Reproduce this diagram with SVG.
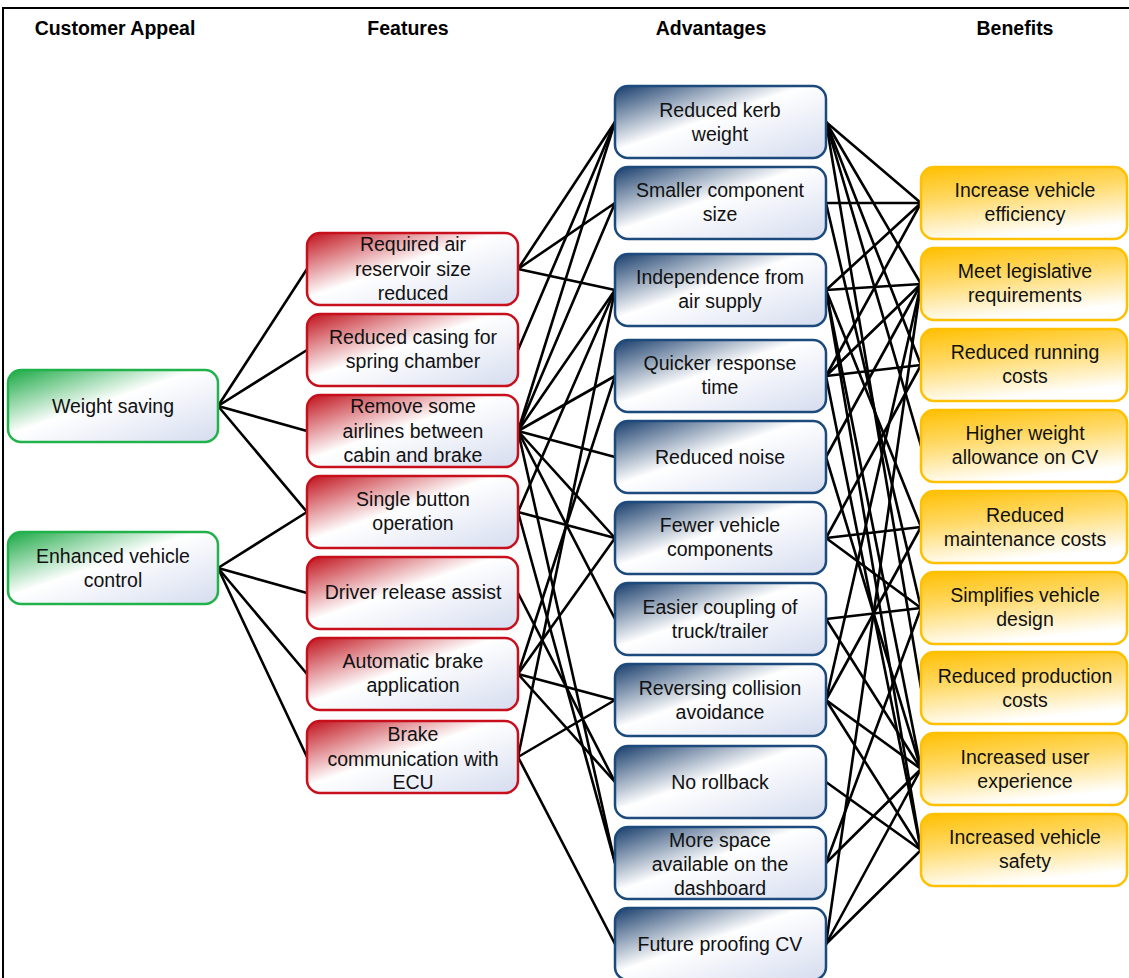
<svg xmlns="http://www.w3.org/2000/svg" width="1129" height="978" viewBox="0 0 1129 978">
  <defs>
    <linearGradient id="gGreen" x1="0" y1="0" x2="1" y2="1">
      <stop offset="0" stop-color="#19a843"/>
      <stop offset="0.45" stop-color="#ffffff"/>
      <stop offset="1" stop-color="#d5dcef"/>
    </linearGradient>
    <linearGradient id="gRed" x1="0" y1="0" x2="1" y2="1">
      <stop offset="0" stop-color="#c0101a"/>
      <stop offset="0.45" stop-color="#ffffff"/>
      <stop offset="1" stop-color="#d5dcef"/>
    </linearGradient>
    <linearGradient id="gBlue" x1="0" y1="0" x2="1" y2="1">
      <stop offset="0" stop-color="#173c6b"/>
      <stop offset="0.45" stop-color="#ffffff"/>
      <stop offset="1" stop-color="#d5dcef"/>
    </linearGradient>
    <linearGradient id="gGold" x1="0" y1="0" x2="0.3" y2="1">
      <stop offset="0" stop-color="#ffbf00"/>
      <stop offset="0.45" stop-color="#ffd966"/>
      <stop offset="1" stop-color="#ffffff"/>
    </linearGradient>
  </defs>
  <style>
    .hdr { font-family: "Liberation Sans", Arial, sans-serif; font-size: 19.5px; font-weight: bold; fill: #000; text-anchor: middle; }
    .lbl { font-family: "Liberation Sans", Arial, sans-serif; font-size: 19.5px; fill: #111; text-anchor: middle; }
    .box { stroke-width: 2.5; }
    .appeal { fill: url(#gGreen); stroke: #22b24c; }
    .feature { fill: url(#gRed); stroke: #c8101c; }
    .advantage { fill: url(#gBlue); stroke: #1c4a7c; }
    .benefit { fill: url(#gGold); stroke: #ffc000; }
    #connectors line { stroke: #000; stroke-width: 2.6; stroke-linecap: round; }
  </style>

  <rect x="0" y="0" width="1129" height="978" fill="#ffffff"/>
  <!-- outer frame -->
  <path d="M3,978 V8 H1129" fill="none" stroke="#000" stroke-width="2"/>

  <!-- column headings -->
  <g id="headings">
    <text class="hdr" x="115" y="35">Customer Appeal</text>
    <text class="hdr" x="408" y="35">Features</text>
    <text class="hdr" x="711" y="35">Advantages</text>
    <text class="hdr" x="1015" y="35">Benefits</text>
  </g>

  <!-- connectors -->
  <g id="connectors">
    <!-- appeal to features -->
    <line x1="218" y1="406" x2="307" y2="269"/>
    <line x1="218" y1="406" x2="307" y2="350"/>
    <line x1="218" y1="406" x2="307" y2="431"/>
    <line x1="218" y1="406" x2="307" y2="512"/>
    <line x1="218" y1="568" x2="307" y2="512"/>
    <line x1="218" y1="568" x2="307" y2="593"/>
    <line x1="218" y1="568" x2="307" y2="674"/>
    <line x1="218" y1="568" x2="307" y2="757"/>
    <!-- features to advantages -->
    <line x1="518" y1="269" x2="615" y2="122"/>
    <line x1="518" y1="269" x2="615" y2="203"/>
    <line x1="518" y1="269" x2="615" y2="290"/>
    <line x1="518" y1="350" x2="615" y2="122"/>
    <line x1="518" y1="431" x2="615" y2="122"/>
    <line x1="518" y1="431" x2="615" y2="203"/>
    <line x1="518" y1="431" x2="615" y2="290"/>
    <line x1="518" y1="431" x2="615" y2="376"/>
    <line x1="518" y1="431" x2="615" y2="457"/>
    <line x1="518" y1="431" x2="615" y2="538"/>
    <line x1="518" y1="431" x2="615" y2="619"/>
    <line x1="518" y1="431" x2="615" y2="863"/>
    <line x1="518" y1="512" x2="615" y2="290"/>
    <line x1="518" y1="512" x2="615" y2="538"/>
    <line x1="518" y1="512" x2="615" y2="863"/>
    <line x1="518" y1="593" x2="615" y2="782"/>
    <line x1="518" y1="674" x2="615" y2="376"/>
    <line x1="518" y1="674" x2="615" y2="538"/>
    <line x1="518" y1="674" x2="615" y2="700"/>
    <line x1="518" y1="674" x2="615" y2="782"/>
    <line x1="518" y1="757" x2="615" y2="290"/>
    <line x1="518" y1="757" x2="615" y2="700"/>
    <line x1="518" y1="757" x2="615" y2="944"/>
    <!-- advantages to benefits -->
    <line x1="826" y1="122" x2="921" y2="203"/>
    <line x1="826" y1="122" x2="921" y2="284"/>
    <line x1="826" y1="122" x2="921" y2="365"/>
    <line x1="826" y1="122" x2="921" y2="446"/>
    <line x1="826" y1="122" x2="921" y2="688"/>
    <line x1="826" y1="203" x2="921" y2="203"/>
    <line x1="826" y1="203" x2="921" y2="608"/>
    <line x1="826" y1="290" x2="921" y2="203"/>
    <line x1="826" y1="290" x2="921" y2="284"/>
    <line x1="826" y1="290" x2="921" y2="527"/>
    <line x1="826" y1="290" x2="921" y2="769"/>
    <line x1="826" y1="290" x2="921" y2="850"/>
    <line x1="826" y1="376" x2="921" y2="203"/>
    <line x1="826" y1="376" x2="921" y2="365"/>
    <line x1="826" y1="376" x2="921" y2="284"/>
    <line x1="826" y1="376" x2="921" y2="850"/>
    <line x1="826" y1="457" x2="921" y2="284"/>
    <line x1="826" y1="457" x2="921" y2="769"/>
    <line x1="826" y1="538" x2="921" y2="365"/>
    <line x1="826" y1="538" x2="921" y2="527"/>
    <line x1="826" y1="538" x2="921" y2="608"/>
    <line x1="826" y1="619" x2="921" y2="608"/>
    <line x1="826" y1="619" x2="921" y2="769"/>
    <line x1="826" y1="700" x2="921" y2="284"/>
    <line x1="826" y1="700" x2="921" y2="527"/>
    <line x1="826" y1="700" x2="921" y2="769"/>
    <line x1="826" y1="700" x2="921" y2="850"/>
    <line x1="826" y1="782" x2="921" y2="850"/>
    <line x1="826" y1="863" x2="921" y2="608"/>
    <line x1="826" y1="863" x2="921" y2="769"/>
    <line x1="826" y1="944" x2="921" y2="284"/>
    <line x1="826" y1="944" x2="921" y2="769"/>
    <line x1="826" y1="944" x2="921" y2="850"/>
  </g>

  <!-- customer appeal -->
  <g id="appeal-weight-saving">
    <rect class="box appeal" x="8" y="370" width="210" height="72" rx="13"/>
    <text class="lbl" x="113" y="413">Weight saving</text>
  </g>
  <g id="appeal-enhanced-control">
    <rect class="box appeal" x="8" y="532" width="210" height="72" rx="13"/>
    <text class="lbl" x="113" y="563">Enhanced vehicle</text>
    <text class="lbl" x="113" y="587">control</text>
  </g>

  <!-- features -->
  <g id="feature-air-reservoir">
    <rect class="box feature" x="307" y="233" width="211" height="72" rx="13"/>
    <text class="lbl" x="413" y="251">Required air</text>
    <text class="lbl" x="413" y="276">reservoir size</text>
    <text class="lbl" x="413" y="300">reduced</text>
  </g>
  <g id="feature-spring-casing">
    <rect class="box feature" x="307" y="314" width="211" height="72" rx="13"/>
    <text class="lbl" x="413" y="344">Reduced casing for</text>
    <text class="lbl" x="413" y="368">spring chamber</text>
  </g>
  <g id="feature-airlines">
    <rect class="box feature" x="307" y="395" width="211" height="72" rx="13"/>
    <text class="lbl" x="413" y="413">Remove some</text>
    <text class="lbl" x="413" y="438">airlines between</text>
    <text class="lbl" x="413" y="462">cabin and brake</text>
  </g>
  <g id="feature-single-button">
    <rect class="box feature" x="307" y="476" width="211" height="72" rx="13"/>
    <text class="lbl" x="413" y="506">Single button</text>
    <text class="lbl" x="413" y="530">operation</text>
  </g>
  <g id="feature-driver-release">
    <rect class="box feature" x="307" y="557" width="211" height="72" rx="13"/>
    <text class="lbl" x="413" y="599">Driver release assist</text>
  </g>
  <g id="feature-auto-brake">
    <rect class="box feature" x="307" y="638" width="211" height="72" rx="13"/>
    <text class="lbl" x="413" y="668">Automatic brake</text>
    <text class="lbl" x="413" y="692">application</text>
  </g>
  <g id="feature-ecu">
    <rect class="box feature" x="307" y="721" width="211" height="72" rx="13"/>
    <text class="lbl" x="413" y="741">Brake</text>
    <text class="lbl" x="413" y="766">communication with</text>
    <text class="lbl" x="413" y="789">ECU</text>
  </g>

  <!-- advantages -->
  <g id="adv-kerb-weight">
    <rect class="box advantage" x="615" y="86" width="211" height="72" rx="13"/>
    <text class="lbl" x="720" y="117">Reduced kerb</text>
    <text class="lbl" x="720" y="141">weight</text>
  </g>
  <g id="adv-component-size">
    <rect class="box advantage" x="615" y="167" width="211" height="72" rx="13"/>
    <text class="lbl" x="720" y="197">Smaller component</text>
    <text class="lbl" x="720" y="221">size</text>
  </g>
  <g id="adv-air-independence">
    <rect class="box advantage" x="615" y="254" width="211" height="72" rx="13"/>
    <text class="lbl" x="720" y="284">Independence from</text>
    <text class="lbl" x="720" y="308">air supply</text>
  </g>
  <g id="adv-response-time">
    <rect class="box advantage" x="615" y="340" width="211" height="72" rx="13"/>
    <text class="lbl" x="720" y="370">Quicker response</text>
    <text class="lbl" x="720" y="394">time</text>
  </g>
  <g id="adv-noise">
    <rect class="box advantage" x="615" y="421" width="211" height="72" rx="13"/>
    <text class="lbl" x="720" y="464">Reduced noise</text>
  </g>
  <g id="adv-fewer-components">
    <rect class="box advantage" x="615" y="502" width="211" height="72" rx="13"/>
    <text class="lbl" x="720" y="532">Fewer vehicle</text>
    <text class="lbl" x="720" y="556">components</text>
  </g>
  <g id="adv-coupling">
    <rect class="box advantage" x="615" y="583" width="211" height="72" rx="13"/>
    <text class="lbl" x="720" y="614">Easier coupling of</text>
    <text class="lbl" x="720" y="638">truck/trailer</text>
  </g>
  <g id="adv-collision">
    <rect class="box advantage" x="615" y="664" width="211" height="72" rx="13"/>
    <text class="lbl" x="720" y="695">Reversing collision</text>
    <text class="lbl" x="720" y="719">avoidance</text>
  </g>
  <g id="adv-rollback">
    <rect class="box advantage" x="615" y="746" width="211" height="72" rx="13"/>
    <text class="lbl" x="720" y="789">No rollback</text>
  </g>
  <g id="adv-dashboard">
    <rect class="box advantage" x="615" y="827" width="211" height="72" rx="13"/>
    <text class="lbl" x="720" y="847">More space</text>
    <text class="lbl" x="720" y="871">available on the</text>
    <text class="lbl" x="720" y="895">dashboard</text>
  </g>
  <g id="adv-future-proof">
    <rect class="box advantage" x="615" y="908" width="211" height="72" rx="13"/>
    <text class="lbl" x="720" y="951">Future proofing CV</text>
  </g>

  <!-- benefits -->
  <g id="ben-efficiency">
    <rect class="box benefit" x="921" y="167" width="206" height="72" rx="13"/>
    <text class="lbl" x="1025" y="197">Increase vehicle</text>
    <text class="lbl" x="1025" y="221">efficiency</text>
  </g>
  <g id="ben-legislation">
    <rect class="box benefit" x="921" y="248" width="206" height="72" rx="13"/>
    <text class="lbl" x="1025" y="278">Meet legislative</text>
    <text class="lbl" x="1025" y="302">requirements</text>
  </g>
  <g id="ben-running-costs">
    <rect class="box benefit" x="921" y="329" width="206" height="72" rx="13"/>
    <text class="lbl" x="1025" y="359">Reduced running</text>
    <text class="lbl" x="1025" y="383">costs</text>
  </g>
  <g id="ben-weight-allowance">
    <rect class="box benefit" x="921" y="410" width="206" height="72" rx="13"/>
    <text class="lbl" x="1025" y="440">Higher weight</text>
    <text class="lbl" x="1025" y="464">allowance on CV</text>
  </g>
  <g id="ben-maintenance">
    <rect class="box benefit" x="921" y="491" width="206" height="72" rx="13"/>
    <text class="lbl" x="1025" y="522">Reduced</text>
    <text class="lbl" x="1025" y="546">maintenance costs</text>
  </g>
  <g id="ben-design">
    <rect class="box benefit" x="921" y="572" width="206" height="72" rx="13"/>
    <text class="lbl" x="1025" y="602">Simplifies vehicle</text>
    <text class="lbl" x="1025" y="626">design</text>
  </g>
  <g id="ben-production">
    <rect class="box benefit" x="921" y="652" width="206" height="72" rx="13"/>
    <text class="lbl" x="1025" y="683">Reduced production</text>
    <text class="lbl" x="1025" y="707">costs</text>
  </g>
  <g id="ben-user-experience">
    <rect class="box benefit" x="921" y="733" width="206" height="72" rx="13"/>
    <text class="lbl" x="1025" y="764">Increased user</text>
    <text class="lbl" x="1025" y="788">experience</text>
  </g>
  <g id="ben-safety">
    <rect class="box benefit" x="921" y="814" width="206" height="72" rx="13"/>
    <text class="lbl" x="1025" y="844">Increased vehicle</text>
    <text class="lbl" x="1025" y="868">safety</text>
  </g>
</svg>
